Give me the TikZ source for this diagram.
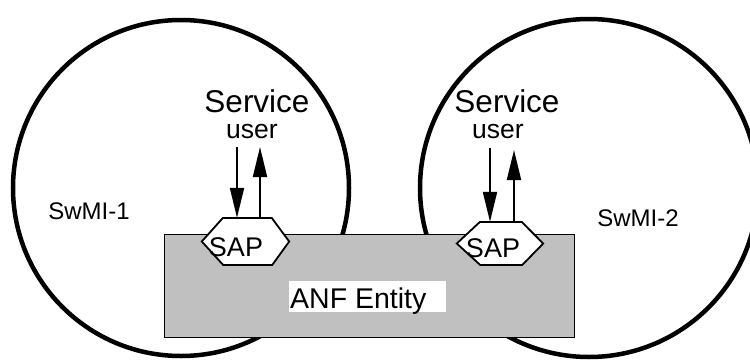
\documentclass[tikz,border=0pt]{standalone}
\usepackage{fontspec}
\setmainfont{Liberation Sans}
\usetikzlibrary{arrows.meta,calc}
\definecolor{boxgray}{RGB}{192,192,192}
\tikzset{
  swmi/.style={line width=4.5pt,draw=black},
  entity/.style={draw=black,line width=1.2pt,fill=boxgray},
  hexnode/.style={inner sep=0pt,minimum width=#1},
  hexline/.style={draw=black,line width=1.8pt,fill=white,line join=miter},
  lbl/.style={anchor=base,inner sep=0pt,text=black},
  flow/.style={line width=2pt,-{Triangle[length=30pt,width=14pt]}},
}
\begin{document}
\begin{tikzpicture}[x=1pt,y=-1pt]
\useasboundingbox (0,0) rectangle (750,359);
\clip (0,0) rectangle (750,359);
\fill[white] (0,0) rectangle (750,359);
% SwMI circles
\node[circle,swmi,minimum size=336pt,inner sep=0pt] (c1) at (181,188) {};
\node[circle,swmi,minimum size=338pt,inner sep=0pt] (c2) at (589,188) {};
% ANF entity box
\node[entity,minimum width=410pt,minimum height=103pt,inner sep=0pt,anchor=north west] (anf) at (164,234) {};
\node[fill=white,minimum width=157pt,minimum height=31pt,inner sep=0pt,anchor=north west] (anfbg) at (289,281) {};
\node[lbl,anchor=base west,font=\fontsize{28.5}{28.5}\selectfont] (anft) at (290,308) {ANF Entity};
% SAP hexagons
\node[hexnode=87pt,minimum height=47pt] (hexL) at (245.5,241.5) {};
\path[hexline] (hexL.west) -- ++(21,-23.5) -- ++(49,0) -- (hexL.east) -- ++(-17,23.5) -- ++(-49,0) -- cycle;
\node[hexnode=86pt,minimum height=43pt] (hexR) at (500,243.5) {};
\path[hexline] (hexR.west) -- ++(23,-21.5) -- ++(42,0) -- (hexR.east) -- ++(-21,21.5) -- ++(-42,0) -- cycle;
\node[lbl,font=\fontsize{27}{27}\selectfont] (sapL) at (236,256) {SAP};
\node[lbl,font=\fontsize{27}{27}\selectfont] (sapR) at (493,257) {SAP};
% labels
\node[lbl,font=\fontsize{31.5}{31.5}\selectfont] (servL) at (257,112) {Service};
\node[lbl,font=\fontsize{26.5}{26.5}\selectfont] (userL) at (252,138) {user};
\node[lbl,font=\fontsize{31.5}{31.5}\selectfont] (servR) at (507,112) {Service};
\node[lbl,font=\fontsize{26.5}{26.5}\selectfont] (userR) at (498,138) {user};
\node[lbl,font=\fontsize{24}{24}\selectfont] (sw1) at (89,219) {SwMI-1};
\node[lbl,font=\fontsize{24}{24}\selectfont] (sw2) at (638,226) {SwMI-2};
% arrows
\coordinate (aL1) at (237,147);
\coordinate (aL2) at (260,147);
\coordinate (aR1) at (490,148);
\coordinate (aR2) at (514,150);
\draw[flow] (aL1) -- (aL1 |- hexL.north);
\draw[flow] (aL2 |- hexL.north) -- (aL2);
\draw[flow] (aR1) -- (aR1 |- hexR.north);
\draw[flow] (aR2 |- hexR.north) -- (aR2);
\end{tikzpicture}
\end{document}
